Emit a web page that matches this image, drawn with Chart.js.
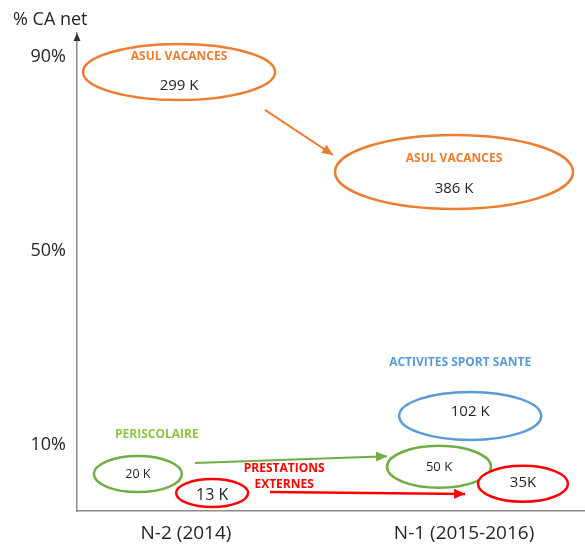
<!DOCTYPE html>
<html lang="fr">
<head>
<meta charset="utf-8">
<script src="https://cdn.jsdelivr.net/npm/chart.js@4/dist/chart.umd.min.js"></script>
<style>
  html, body { margin: 0; padding: 0; background: #fff; }
  #cadre { width: 585px; height: 545px; }
</style>
</head>
<body>
<div id="cadre"><canvas id="graphique"></canvas></div>
<script>
const annees = ["N-2 (2014)", "N-1 (2015-2016)"];
const ticksPct = [10, 50, 90];

// CA en K par année (null = activité absente)
const caAsul = [299, 386];
const caPeri = [20, 50];
const caPrest = [13, 35];
const caSport = [null, 102];

// % CA net (axe vertical)
const pctAsul = [86.9, 66.3];
const pctPeri = [4.0, 5.5];
const pctPrest = [0.1, 2.0];
const pctSport = [null, 16.0];

// placement horizontal autour de chaque année (0 = N-2, 1 = N-1)
const posAsul = [-0.025, 0.964];
const posPeri = [-0.173, 0.910];
const posPrest = [0.094, 1.212];
const posSport = [null, 1.022];

// flèches d'évolution [x, %] départ -> arrivée
const flecheAsul = [[0.284, 79.1], [0.529, 69.8]];
const flechePeri = [[0.032, 6.3], [0.723, 7.7]];
const flechePrest = [[0.302, 0.3], [1.004, -0.1]];

// Styles (couleurs, taille des ellipses, étiquettes)
const styles = {
  asul: {
    nom: "ASUL VACANCES", trait: "#ED7D31", texte: "#ED7D31",
    rayons: [[96, 28], [119, 37]], policeValeur: [15, 15], decalValeur: [14, 17],
    noms: [{ i: 0, dx: 0, dy: -15, lignes: ["ASUL VACANCES"] }, { i: 1, dx: 0, dy: -13, lignes: ["ASUL VACANCES"] }],
    suffixe: [" K", " K"]
  },
  peri: {
    nom: "PERISCOLAIRE", trait: "#70AD47", texte: "#8CC63F",
    rayons: [[44, 18], [52, 21]], policeValeur: [12.5, 13], decalValeur: [0, 0],
    noms: [{ i: 0, dx: 19, dy: -40, lignes: ["PERISCOLAIRE"] }],
    suffixe: [" K", " K"]
  },
  prest: {
    nom: "PRESTATIONS EXTERNES", trait: "#FF0000", texte: "#FF0000",
    rayons: [[36, 14], [45, 18]], policeValeur: [16, 15], decalValeur: [2, -1],
    noms: [{ i: 0, dx: 72, dy: -24, lignes: ["PRESTATIONS", "EXTERNES"] }],
    suffixe: [" K", "K"]
  },
  sport: {
    nom: "ACTIVITES SPORT SANTE", trait: "#5B9BD5", texte: "#5B9BD5",
    rayons: [null, [71, 24]], policeValeur: [15, 15], decalValeur: [0, -4],
    noms: [{ i: 1, dx: -10, dy: -53, lignes: ["ACTIVITES SPORT SANTE"] }],
    suffixe: [" K", " K"]
  }
};

function points(pos, pct, ca) {
  return annees.map((a, i) => ({ x: pos[i], y: pct[i], ca: ca[i], i: i }))
    .filter(p => p.y !== null);
}

function jeuBulles(cle, pos, pct, ca) {
  return {
    type: "scatter", genre: "bulle", cle: cle, label: styles[cle].nom,
    data: points(pos, pct, ca), pointRadius: 0, showLine: false
  };
}

function jeuFleche(cle, fleche, largeur) {
  return {
    type: "line", genre: "fleche", cle: cle, label: "fleche " + cle,
    data: fleche.map(p => ({ x: p[0], y: p[1] })),
    borderColor: styles[cle].trait, borderWidth: largeur,
    pointRadius: 0, fill: false, tension: 0
  };
}

const jeux = [
  jeuFleche("asul", flecheAsul, 2),
  jeuFleche("peri", flechePeri, 2),
  jeuFleche("prest", flechePrest, 2.5),
  jeuBulles("asul", posAsul, pctAsul, caAsul),
  jeuBulles("sport", posSport, pctSport, caSport),
  jeuBulles("peri", posPeri, pctPeri, caPeri),
  jeuBulles("prest", posPrest, pctPrest, caPrest)
];

// Ellipses, textes, pointes de flèches et titre de l'axe
const dessins = {
  id: "dessins",
  afterDatasetsDraw(chart) {
    const ctx = chart.ctx;
    const zone = chart.chartArea;
    ctx.save();

    chart.data.datasets.forEach((ds, di) => {
      const meta = chart.getDatasetMeta(di);
      const st = styles[ds.cle];

      if (ds.genre === "fleche") {
        const a = meta.data[0], b = meta.data[meta.data.length - 1];
        const ang = Math.atan2(b.y - a.y, b.x - a.x);
        ctx.fillStyle = st.trait;
        ctx.beginPath();
        ctx.moveTo(b.x, b.y);
        ctx.lineTo(b.x - 11 * Math.cos(ang) + 5 * Math.sin(ang), b.y - 11 * Math.sin(ang) - 5 * Math.cos(ang));
        ctx.lineTo(b.x - 11 * Math.cos(ang) - 5 * Math.sin(ang), b.y - 11 * Math.sin(ang) + 5 * Math.cos(ang));
        ctx.closePath();
        ctx.fill();
        return;
      }

      meta.data.forEach((el, k) => {
        const p = ds.data[k];
        const [rx, ry] = st.rayons[p.i];
        ctx.beginPath();
        ctx.ellipse(el.x, el.y, rx, ry, 0, 0, 2 * Math.PI);
        ctx.fillStyle = "#fff";
        ctx.fill();
        ctx.lineWidth = 2.5;
        ctx.strokeStyle = st.trait;
        ctx.stroke();

        // valeur en K
        ctx.fillStyle = "#262626";
        ctx.font = st.policeValeur[p.i] + "px 'Open Sans'";
        ctx.textAlign = "center";
        ctx.textBaseline = "middle";
        ctx.fillText(p.ca + st.suffixe[p.i], el.x, el.y + st.decalValeur[p.i]);

        // nom de l'activité
        st.noms.filter(n => n.i === p.i).forEach(n => {
          ctx.fillStyle = st.texte;
          ctx.font = "bold 12px 'Open Sans'";
          n.lignes.forEach((l, j) => {
            ctx.fillText(l, el.x + n.dx, el.y + n.dy + j * 16);
          });
        });
      });
    });

    // pointe de l'axe vertical
    ctx.fillStyle = "#333";
    ctx.beginPath();
    ctx.moveTo(zone.left, zone.top);
    ctx.lineTo(zone.left - 3.5, zone.top + 8);
    ctx.lineTo(zone.left + 3.5, zone.top + 8);
    ctx.closePath();
    ctx.fill();

    ctx.fillStyle = "#262626";
    ctx.font = "18px 'Open Sans'";
    ctx.textAlign = "left";
    ctx.textBaseline = "middle";
    ctx.fillText("% CA net", 13, 20);
    ctx.restore();
  }
};

new Chart(document.getElementById("graphique"), {
  type: "scatter",
  data: { datasets: jeux },
  options: {
    responsive: true,
    maintainAspectRatio: false,
    animation: false,
    layout: { padding: { top: 33, right: 0, bottom: 0, left: 0 } },
    plugins: {
      legend: { display: false },
      tooltip: { enabled: false }
    },
    scales: {
      x: {
        type: "linear",
        min: -0.392,
        max: 1.435,
        grid: { display: false },
        border: { display: true, color: "#8a8a8a", width: 1.5 },
        afterBuildTicks: scale => { scale.ticks = annees.map((a, i) => ({ value: i })); },
        afterFit: scale => { scale.height = 34; },
        ticks: {
          padding: 3,
          color: "#262626",
          font: { family: "'Open Sans'", size: 19 },
          callback: v => annees[v]
        }
      },
      y: {
        type: "linear",
        min: -3.61,
        max: 94.95,
        grid: { display: false },
        border: { display: true, color: "#8a8a8a", width: 1.5 },
        afterBuildTicks: scale => { scale.ticks = ticksPct.map(v => ({ value: v })); },
        afterFit: scale => { scale.width = 77; },
        ticks: {
          padding: 3,
          color: "#262626",
          font: { family: "'Open Sans'", size: 18 },
          callback: v => v + "%"
        }
      }
    }
  },
  plugins: [dessins]
});
</script>
</body>
</html>
